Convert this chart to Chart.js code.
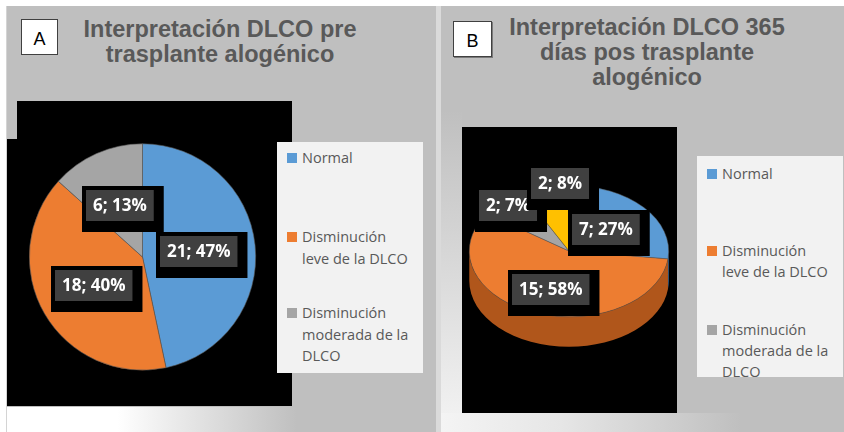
<!DOCTYPE html>
<html>
<head>
<meta charset="utf-8">
<script src="https://cdn.jsdelivr.net/npm/chart.js@4.4.0/dist/chart.umd.min.js"></script>
<style>
  body { margin: 0; width: 844px; height: 432px; background: #fff; position: relative; overflow: hidden; }
  .abs { position: absolute; }
  .panel { background: #bfbfbf; }
  .title { font-family: "Liberation Sans", Arial, sans-serif; font-weight: bold; font-size: 23.5px; line-height: 25px; color: #595959; text-align: center; }
  .tag { background: #fff; border: 1px solid #404040; font-family: "Liberation Sans", Arial, sans-serif; font-size: 18px; color: #000; text-align: center; box-sizing: border-box; }
  .legend { background: #f2f2f2; font-family: "Open Sans", sans-serif; font-size: 14.5px; line-height: 21.5px; color: #595959; }
  .item { position: absolute; white-space: nowrap; }
  .sw { position: absolute; width: 10px; height: 10px; }
</style>
</head>
<body>
<!-- panel A -->
<div class="abs panel" style="left:6px;top:6px;width:430px;height:426px;border-left:1px solid #d4d4d4;box-sizing:border-box"></div>
<div class="abs" style="left:436px;top:6px;width:5px;height:426px;background:#dadada"></div>
<div class="abs" style="left:7px;top:407px;width:429px;height:25px;background:linear-gradient(to right,#fff 0px,#fff 110px,#bfbfbf 290px)"></div>
<div class="abs" style="left:17px;top:101px;width:275px;height:38px;background:#000"></div>
<div class="abs" style="left:7px;top:139px;width:285px;height:267px;background:#000"></div>
<div class="abs title" style="left:6px;top:17px;width:428px">Interpretación DLCO pre<br>trasplante alogénico</div>
<div class="abs tag" style="left:21px;top:19px;width:37px;height:36px;line-height:38px">A</div>
<div class="abs legend" id="legA" style="left:277px;top:142px;width:146px;height:231px"></div>
<div class="abs" style="left:7px;top:101px;width:285px;height:305px"><canvas id="pieA" width="285" height="305"></canvas></div>

<!-- panel B -->
<div class="abs panel" style="left:441px;top:6px;width:403px;height:426px"></div>
<div class="abs" style="left:441px;top:110px;width:21px;height:322px;background:linear-gradient(to bottom,#bfbfbf,#f4f4f4)"></div>
<div class="abs" style="left:441px;top:413px;width:403px;height:19px;background:linear-gradient(to right,#f4f4f4 0px,#e6e6e6 120px,#bfbfbf 300px)"></div>
<div class="abs" style="left:462px;top:127px;width:215px;height:286px;background:#000"></div>
<div class="abs title" style="left:441px;top:15px;width:412px">Interpretación DLCO 365<br>días pos trasplante<br>alogénico</div>
<div class="abs tag" style="left:453px;top:21px;width:39px;height:36px;line-height:38px;box-shadow:1px 1px 0 #7a7a7a">B</div>
<div class="abs legend" id="legB" style="left:697px;top:156px;width:146px;height:221px;line-height:21px"></div>
<div class="abs" style="left:462px;top:127px;width:215px;height:286px"><canvas id="pieB" width="215" height="286"></canvas></div>

<script>
// categories (multi-line labels as Excel wraps them)
var categoriasA = ['Normal', ['Disminución', 'leve de la DLCO'], ['Disminución', 'moderada de la', 'DLCO']];
var valoresA = [21, 18, 6];
var porcentajesA = ['47%', '40%', '13%'];

// panel B has a 4th (yellow) slice with no legend entry
var categoriasB = ['Normal', ['Disminución', 'leve de la DLCO'], ['Disminución', 'moderada de la', 'DLCO'], ''];
var valoresB = [7, 15, 2, 2];
var porcentajesB = ['27%', '58%', '7%', '8%'];

var colores = ['#5b9bd5', '#ed7d31', '#a5a5a5', '#ffc000'];
var coloresLado = ['#3f74a6', '#b0561b', '#7c7c7c', '#c29200'];

// label placement: [fraction of radius, dx, dy]
var posA = [[0.5, 0, 0], [0.5, 0, 0], [0.5, 0, 0]];
var posB = [[0.5, 0, 0], [0.62, 4, 0], [0.93, 0, 0], [1.06, 16, 0]];

var SQ = 0.66, DEPTH = 30;

function legendHtml(el, cats, tops) {
  var html = '';
  var n = 0;
  cats.forEach(function (c, i) {
    if (c === '') return;
    var lines = Array.isArray(c) ? c : [c];
    html += '<div class="item" style="left:25px;top:' + tops[n] + 'px">' + lines.join('<br>') + '</div>';
    html += '<div class="sw" style="left:10px;top:' + (tops[n] + 6) + 'px;background:' + colores[i] + '"></div>';
    n++;
  });
  el.innerHTML = html;
}
legendHtml(document.getElementById('legA'), categoriasA, [5, 84, 160]);
legendHtml(document.getElementById('legB'), categoriasB, [6.5, 83.5, 162.5]);

function labelPlugin(valores, pcts, pos, squash) {
  return {
    id: 'etiquetas',
    afterDraw: function (chart) {
      var ctx = chart.ctx;
      var arcs = chart.getDatasetMeta(0).data;
      ctx.save();
      ctx.font = 'bold 17px "Open Sans"';
      ctx.textAlign = 'center';
      ctx.textBaseline = 'middle';
      arcs.forEach(function (arc, i) {
        var p = arc.getProps(['x', 'y', 'startAngle', 'endAngle', 'outerRadius'], true);
        var mid = (p.startAngle + p.endAngle) / 2;
        var lx = p.x + Math.cos(mid) * p.outerRadius * pos[i][0] + pos[i][1];
        var ly = p.y + Math.sin(mid) * p.outerRadius * pos[i][0] * squash + pos[i][2];
        var txt = valores[i] + '; ' + pcts[i];
        var w = ctx.measureText(txt).width + 14, h = 31;
        var bx = Math.round(lx - w / 2), by = Math.round(ly - h / 2);
        ctx.fillStyle = '#000';
        ctx.fillRect(bx - 4, by - 4, w + 14, h + 15);
        ctx.fillStyle = '#404040';
        ctx.fillRect(bx, by, w, h);
        ctx.fillStyle = '#fff';
        ctx.fillText(txt, bx + w / 2, by + h / 2 + 1);
      });
      ctx.restore();
    }
  };
}

// flattened 3D look for panel B
var pie3d = {
  id: 'pie3d',
  beforeDatasetsDraw: function (chart) {
    var ctx = chart.ctx;
    var arcs = chart.getDatasetMeta(0).data;
    var c = arcs[0].getProps(['x', 'y'], true);
    ctx.save();
    arcs.forEach(function (arc, i) {
      var p = arc.getProps(['startAngle', 'endAngle', 'outerRadius'], true);
      for (var k = -1; k <= 1; k++) {
        var a = Math.max(p.startAngle, k * 2 * Math.PI);
        var b = Math.min(p.endAngle, k * 2 * Math.PI + Math.PI);
        if (b <= a) continue;
        ctx.beginPath();
        ctx.ellipse(c.x, c.y, p.outerRadius, p.outerRadius * SQ, 0, a, b);
        ctx.ellipse(c.x, c.y + DEPTH, p.outerRadius, p.outerRadius * SQ, 0, b, a, true);
        ctx.closePath();
        ctx.fillStyle = coloresLado[i];
        ctx.fill();
      }
    });
    ctx.translate(c.x, c.y);
    ctx.scale(1, SQ);
    ctx.translate(-c.x, -c.y);
  },
  afterDatasetsDraw: function (chart) {
    chart.ctx.restore();
  }
};

var opciones = function (pad) {
  return {
    responsive: false,
    animation: false,
    layout: { padding: pad },
    plugins: { legend: { display: false }, tooltip: { enabled: false } }
  };
};

new Chart(document.getElementById('pieA'), {
  type: 'pie',
  data: {
    labels: categoriasA,
    datasets: [{ data: valoresA, backgroundColor: colores.slice(0, 3), borderColor: '#555', borderWidth: 0.6 }]
  },
  options: opciones({ left: 22, right: 36, top: 42.5, bottom: 35.5 }),
  plugins: [labelPlugin(valoresA, porcentajesA, posA, 1)]
});

new Chart(document.getElementById('pieB'), {
  type: 'pie',
  data: {
    labels: categoriasB,
    datasets: [{ data: valoresB, backgroundColor: colores, borderColor: '#555', borderWidth: 0.6 }]
  },
  options: opciones({ left: 7, right: 8, top: 24, bottom: 62 }),
  plugins: [pie3d, labelPlugin(valoresB, porcentajesB, posB, SQ)]
});
</script>
</body>
</html>
